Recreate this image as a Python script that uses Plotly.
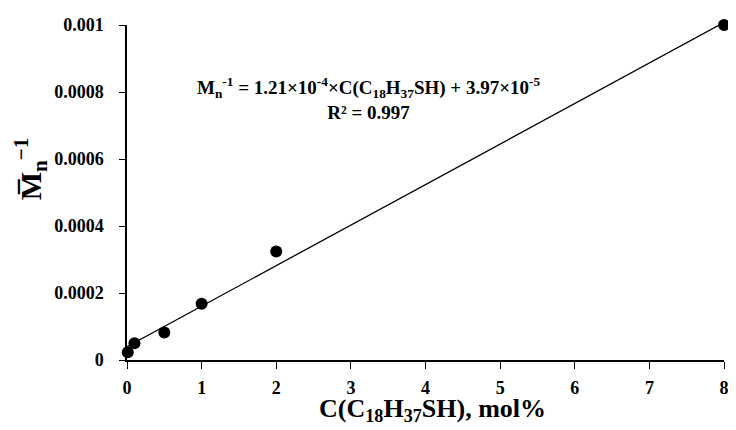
import plotly.graph_objects as go

conc = [0.01, 0.1, 0.5, 1, 2, 8]
inv_mn = [0.000023, 0.00005, 0.000082, 0.000168, 0.000324, 0.001]
slope = 1.21e-4
intercept = 3.97e-5
fit_x = [0, 8]
fit_y = [intercept + slope * x for x in fit_x]

x_ticks = [0, 1, 2, 3, 4, 5, 6, 7, 8]
y_ticks = [0, 0.0002, 0.0004, 0.0006, 0.0008, 0.001]
y_tick_labels = ["0", "0.0002", "0.0004", "0.0006", "0.0008", "0.001"]

FONT = "Liberation Serif"

fig = go.Figure()
fig.add_trace(go.Scatter(x=fit_x, y=fit_y, mode="lines",
                         line=dict(color="black", width=1.3), cliponaxis=False,
                         showlegend=False))
fig.add_trace(go.Scatter(x=conc, y=inv_mn, mode="markers",
                         marker=dict(color="black", size=12), cliponaxis=False,
                         showlegend=False))

fig.update_layout(
    width=728, height=422,
    margin=dict(l=119, r=7, t=14, b=70),
    plot_bgcolor="white", paper_bgcolor="white",
    font=dict(family=FONT, color="black"),
    xaxis=dict(range=[0, 8], tickvals=x_ticks, showgrid=False, zeroline=False,
               showline=True, linecolor="black", linewidth=1.5,
               ticks="outside", ticklen=7, tickcolor="black", tickwidth=1.3,
               ticklabelstandoff=4,
               tickfont=dict(family=FONT, size=18, color="black", weight="bold")),
    yaxis=dict(range=[0, 0.001], tickvals=y_ticks, ticktext=y_tick_labels,
               showgrid=False, zeroline=False,
               showline=True, linecolor="black", linewidth=1.5,
               ticks="outside", ticklen=6, tickcolor="black", tickwidth=1.3,
               ticklabelstandoff=12,
               tickfont=dict(family=FONT, size=18, color="black", weight="bold")),
)

fig.add_annotation(xref="paper", yref="paper", x=0.512, y=-0.15,
                   xanchor="center", yanchor="middle",
                   text="C(C<sub>18</sub>H<sub>37</sub>SH), mol%",
                   showarrow=False,
                   font=dict(family=FONT, size=26, color="black", weight="bold"))

fig.add_annotation(xref="paper", yref="paper", x=-0.162, y=0.57,
                   xanchor="center", yanchor="middle",
                   text="M\u0305<sub>n</sub><sup>\u22121</sup>", textangle=-90,
                   showarrow=False,
                   font=dict(family=FONT, size=30, color="black", weight="bold"))

fig.add_annotation(xref="paper", yref="paper", x=0.405, y=0.78,
                   xanchor="center", yanchor="middle",
                   text="M<sub>n</sub><sup>-1</sup> = 1.21×10<sup>-4</sup>×C(C<sub>18</sub>H<sub>37</sub>SH) + 3.97×10<sup>-5</sup><br>R² = 0.997",
                   showarrow=False, align="center",
                   font=dict(family=FONT, size=19, color="black", weight="bold"))

fig.write_html("out.html")
